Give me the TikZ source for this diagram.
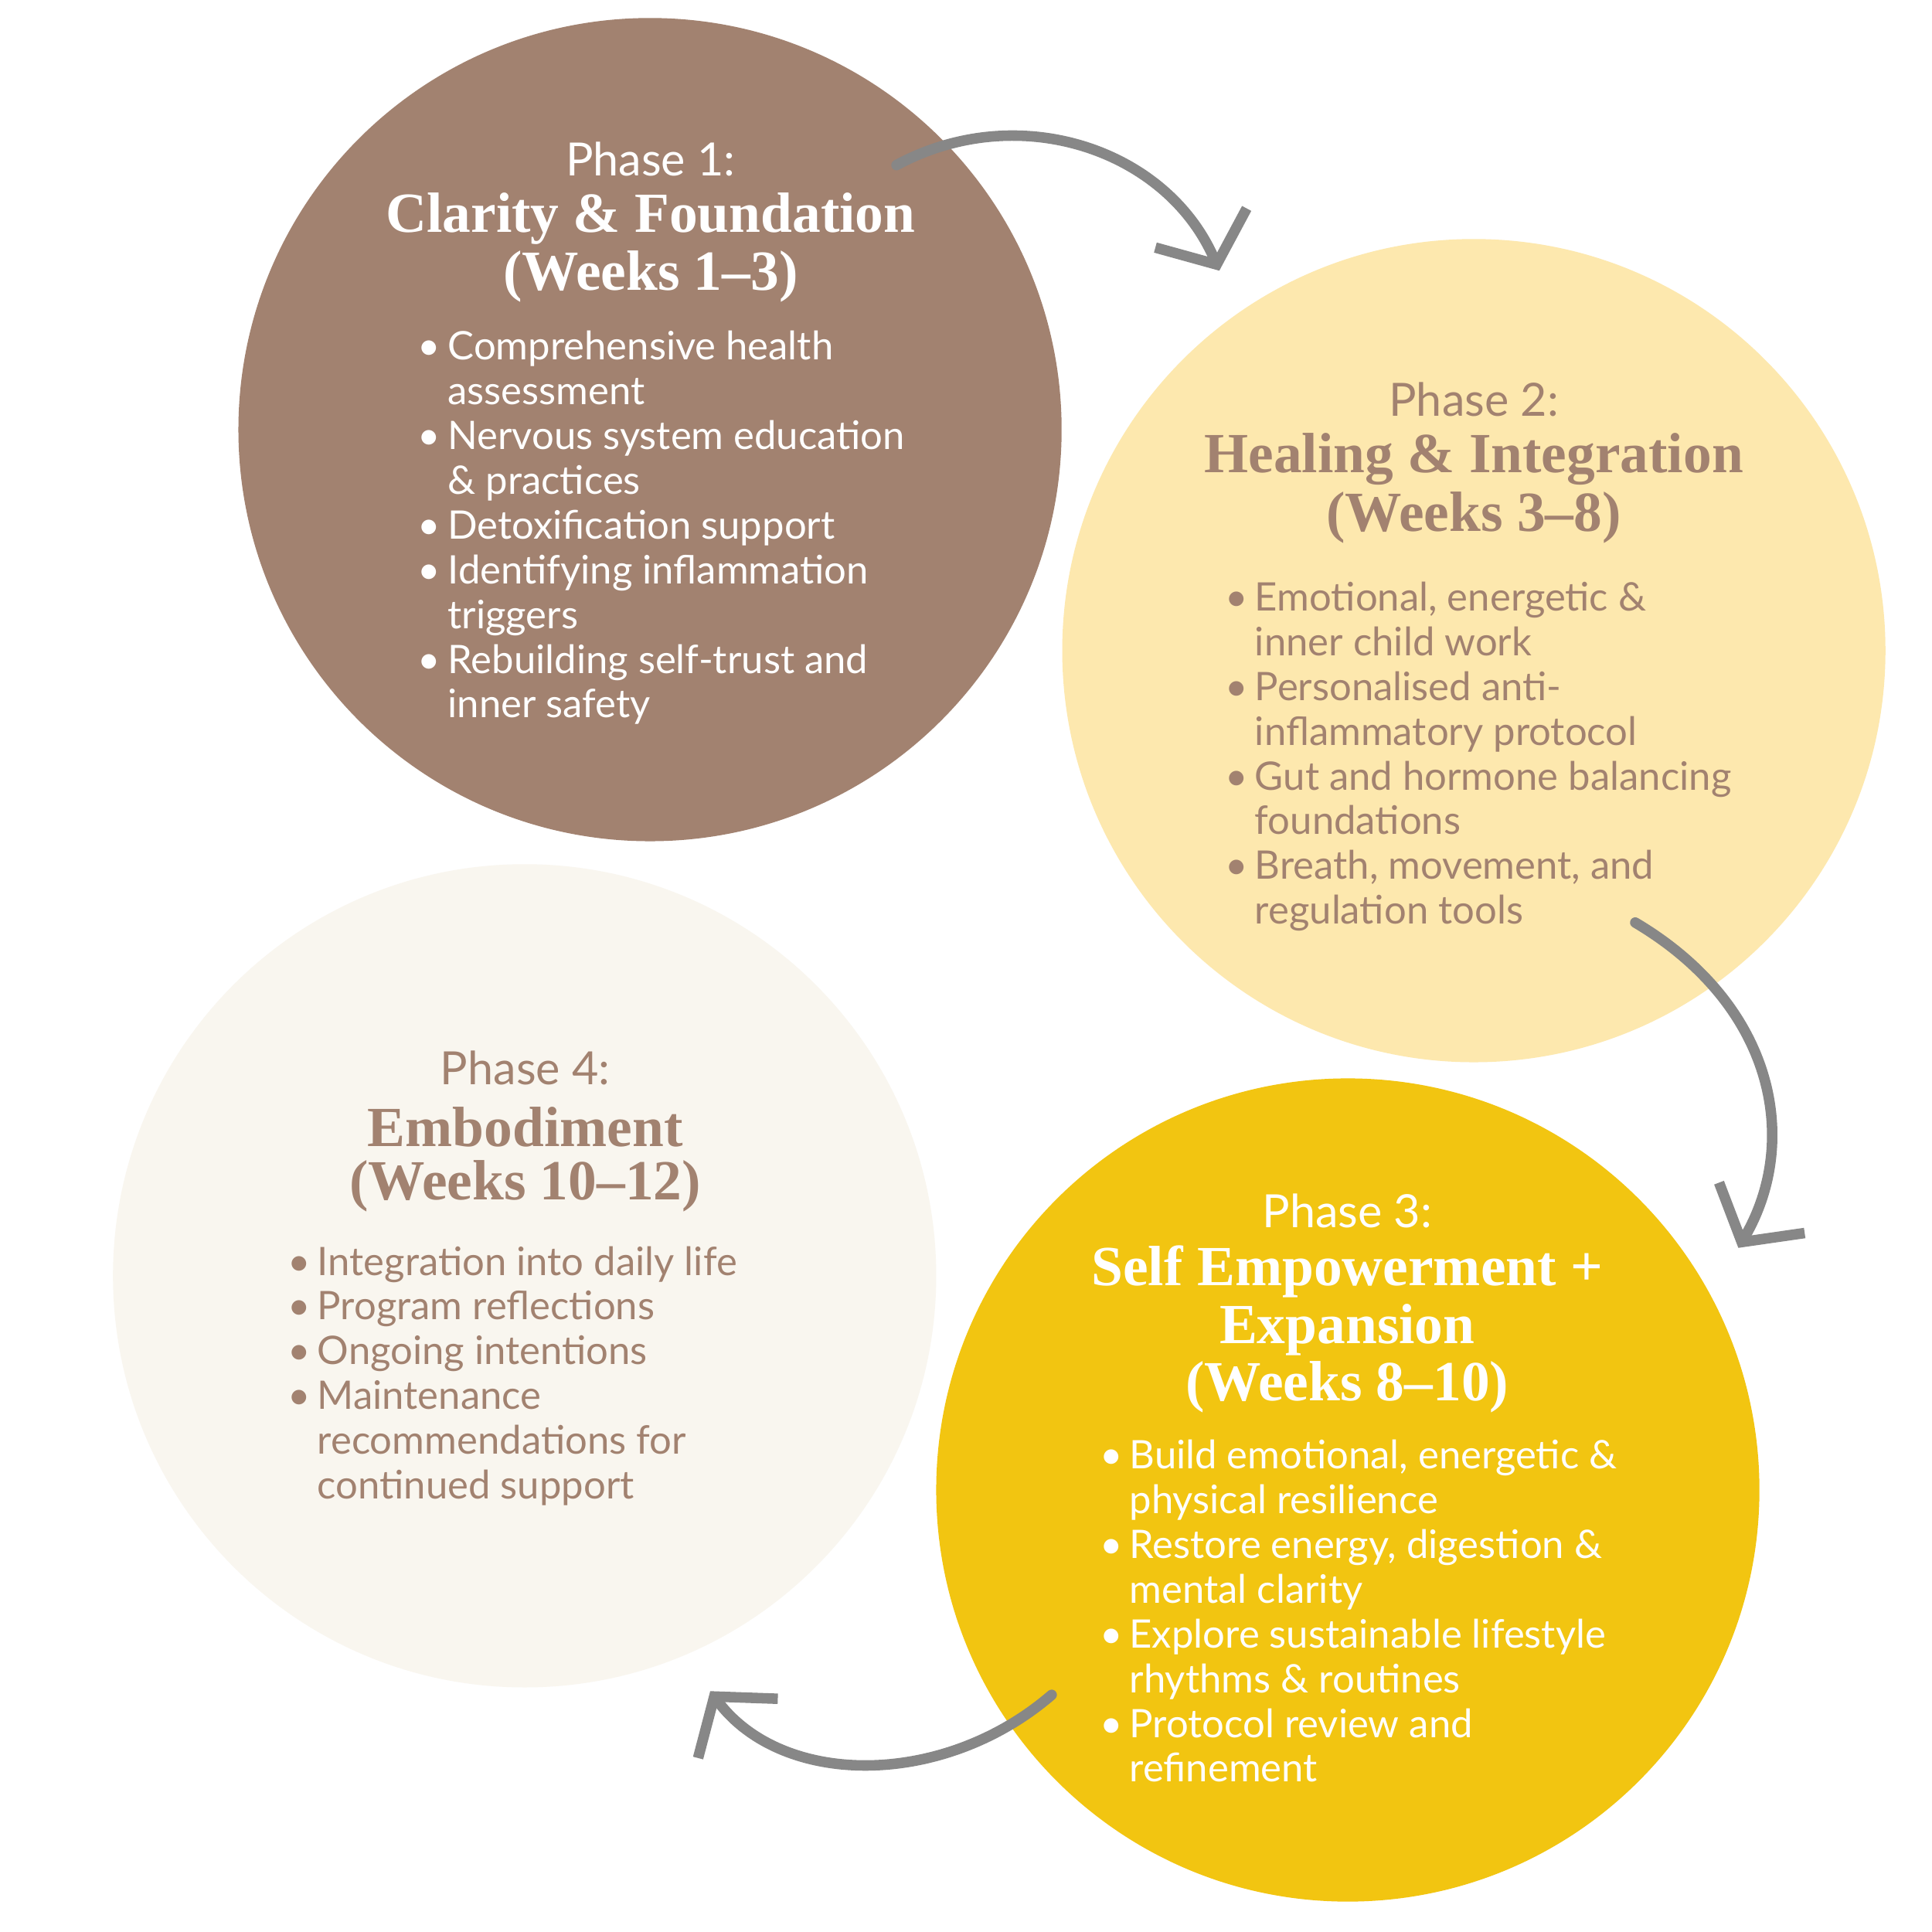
\documentclass[tikz,border=0pt]{standalone}
\usepackage{fontspec}
\setmainfont{Lato}
\newfontfamily\titlefont{Liberation Serif}
\usetikzlibrary{arrows.meta}
\definecolor{cbrown}{HTML}{A28270}
\definecolor{cpale}{HTML}{FDE8AE}
\definecolor{cgold}{HTML}{F2C511}
\definecolor{ccream}{HTML}{F9F6EF}
\definecolor{carrow}{HTML}{878787}
\tikzset{
  phase/.style={circle,minimum size=6.63cm,inner sep=0pt},
  phaselbl/.style={anchor=center,font=\fontsize{10.5}{12}\selectfont},
  ttl/.style={anchor=center,font=\titlefont\bfseries\fontsize{13}{13.6}\selectfont},
  items/.style={anchor=north west,inner sep=0pt,align=left,font=\fontsize{9}{10.25}\selectfont},
  flow/.style={draw=carrow,line width=2.4pt,line cap=round,-{Straight Barb[length=3.2mm,width=8mm,line width=2.4pt]}}
}
\newcommand{\bl}{\makebox[0.24cm][l]{\textbullet}}
\newcommand{\ind}{\hspace*{0.24cm}}
\begin{document}
\begin{tikzpicture}
\useasboundingbox (0,0) rectangle (15.56,-15.56);
\fill[white] (0,0) rectangle (15.56,-15.56);
\node[phase,fill=cbrown] (c1) at (5.235,-3.46) {};
\node[phase,fill=cpale] (c2) at (11.87,-5.24) {};
\node[phase,fill=cgold] (c3) at (10.855,-12.0) {};
\node[phase,fill=ccream] (c4) at (4.225,-10.275) {};

% Phase 1
\node[phaselbl,text=white] (p1) at (5.24,-1.28) {Phase 1:};
\node[ttl,text=white] (t1a) at (5.24,-1.76) {Clarity \& Foundation};
\node[ttl,text=white] (t1b) at (5.24,-2.23) {(Weeks 1–3)};
\node[items,text=white] (b1) at (3.36,-2.66) {\bl Comprehensive health\\\ind assessment\\\bl Nervous system education\\\ind \& practices\\\bl Detoxification support\\\bl Identifying inflammation\\\ind triggers\\\bl Rebuilding self-trust and\\\ind inner safety};

% Phase 2
\node[phaselbl,text=cbrown] (p2) at (11.87,-3.22) {Phase 2:};
\node[ttl,text=cbrown] (t2a) at (11.87,-3.70) {Healing \& Integration};
\node[ttl,text=cbrown] (t2b) at (11.87,-4.17) {(Weeks 3–8)};
\node[items,text=cbrown] (b2) at (9.86,-4.68) {\bl Emotional, energetic \&\\\ind inner child work\\\bl Personalised anti-\\\ind inflammatory protocol\\\bl Gut and hormone balancing\\\ind foundations\\\bl Breath, movement, and\\\ind regulation tools};

% Phase 3
\node[phaselbl,text=white] (p3) at (10.85,-9.75) {Phase 3:};
\node[ttl,text=white] (t3a) at (10.85,-10.24) {Self Empowerment +};
\node[ttl,text=white] (t3b) at (10.85,-10.71) {Expansion};
\node[ttl,text=white] (t3c) at (10.85,-11.17) {(Weeks 8–10)};
\node[items,text=white] (b3) at (8.85,-11.59) {\bl Build emotional, energetic \&\\\ind physical resilience\\\bl Restore energy, digestion \&\\\ind mental clarity\\\bl Explore sustainable lifestyle\\\ind rhythms \& routines\\\bl Protocol review and\\\ind refinement};

% Phase 4
\node[phaselbl,text=cbrown] (p4) at (4.23,-8.60) {Phase 4:};
\node[ttl,text=cbrown] (t4a) at (4.23,-9.08) {Embodiment};
\node[ttl,text=cbrown] (t4b) at (4.23,-9.55) {(Weeks 10–12)};
\node[items,text=cbrown] (b4) at (2.31,-10.03) {\bl Integration into daily life\\\bl Program reflections\\\bl Ongoing intentions\\\bl Maintenance\\\ind recommendations for\\\ind continued support};

% arrows
\coordinate (a1s) at (7.22,-1.33);
\coordinate (a1e) at (9.82,-2.18);
\coordinate (a2s) at (13.17,-7.43);
\coordinate (a2e) at (14.0,-10.05);
\coordinate (a3s) at (8.47,-13.65);
\coordinate (a3e) at (5.72,-13.62);
\draw[flow] (a1s) .. controls (8.2,-0.8) and (9.4,-1.2) .. (a1e);
\draw[flow] (a2s) .. controls (14.3,-8.1) and (14.5,-9.2) .. (a2e);
\draw[flow] (a3s) .. controls (7.6,-14.4) and (6.3,-14.4) .. (a3e);
\end{tikzpicture}
\end{document}
